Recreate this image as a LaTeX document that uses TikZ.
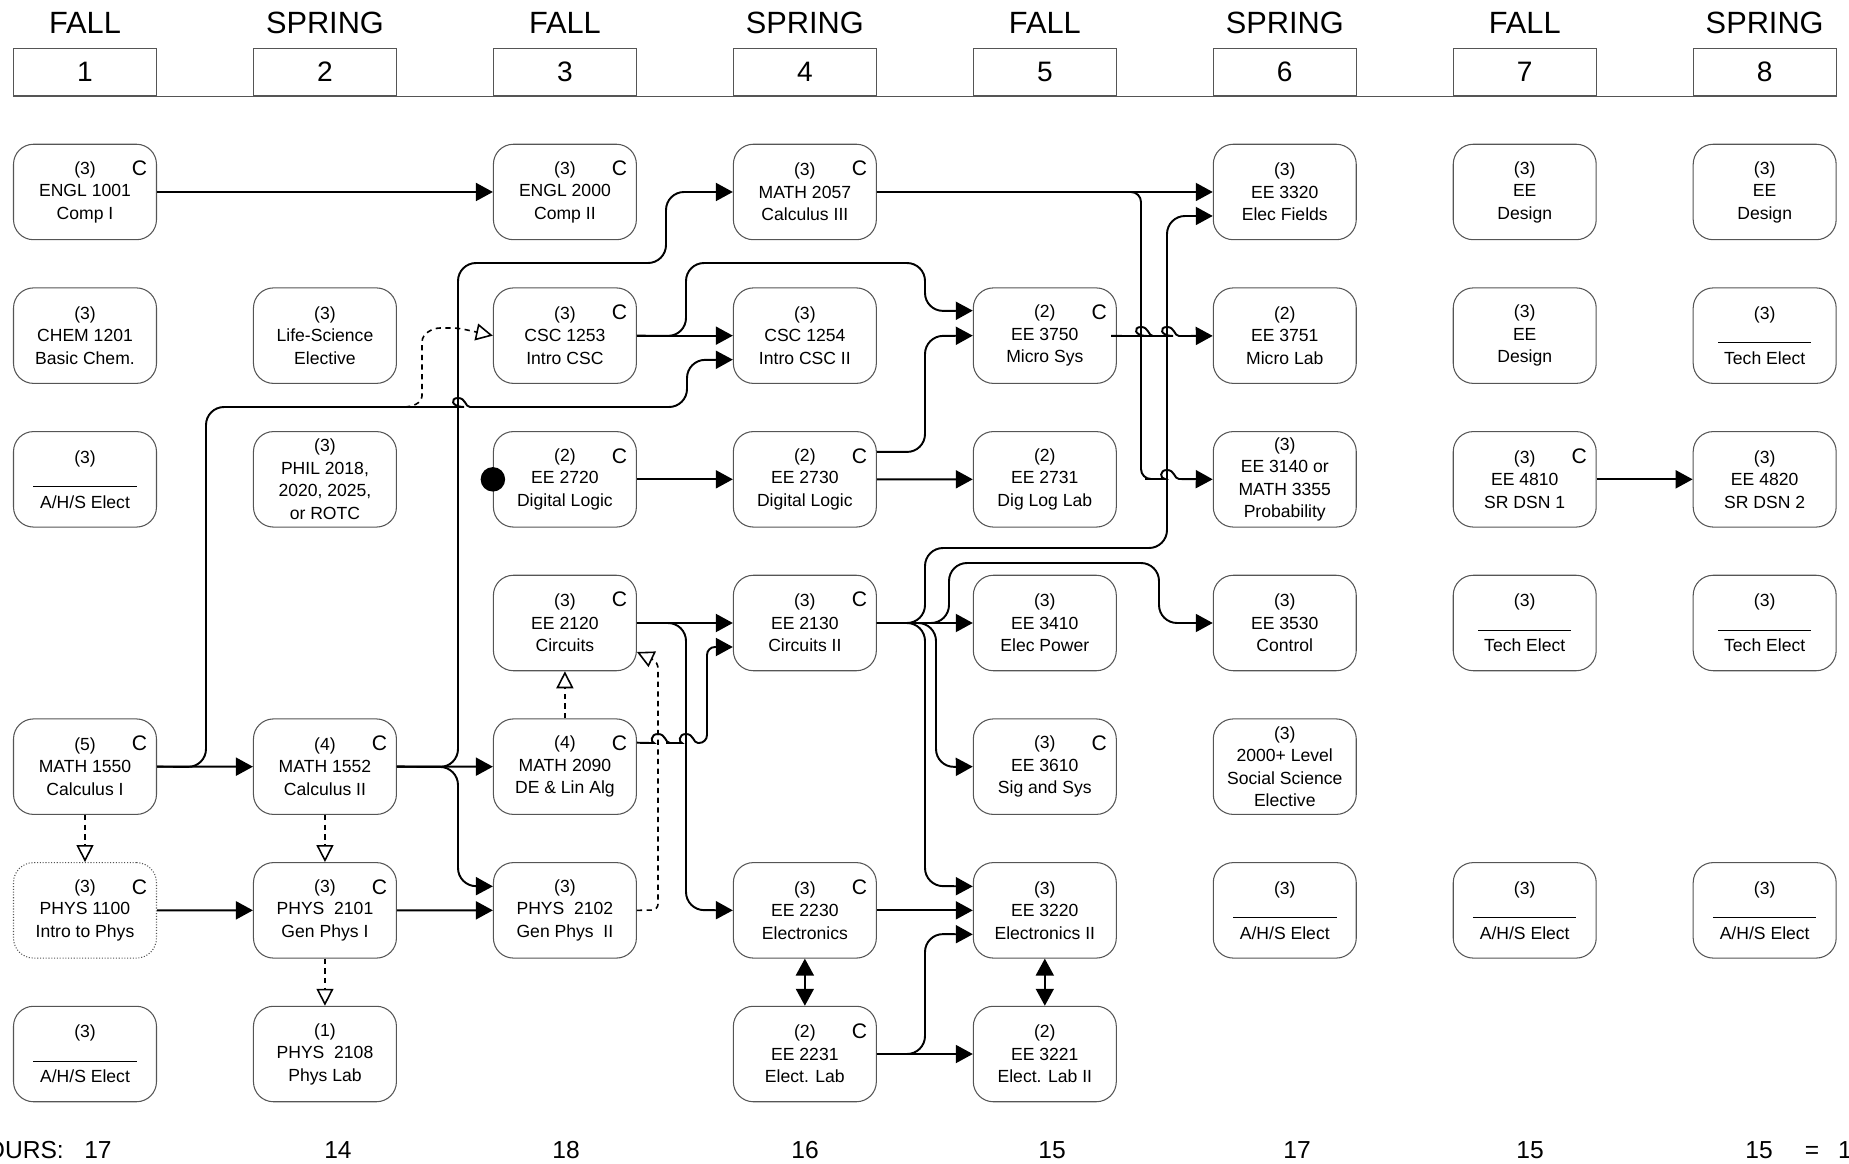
\documentclass[tikz,border=0pt]{standalone}
\usepackage{fontspec}
\setmainfont{Liberation Sans}
\usepackage{tikz}
\usetikzlibrary{arrows.meta, positioning}
\definecolor{boxgray}{RGB}{85,85,85}
\newcommand{\blankrule}[1]{\rule[-0.8pt]{#1}{0.5pt}}
% line hop over a vertical line at x=#1, on a horizontal line at y=#2, corners #3 after it
\newcommand{\hop}[3]{-- ({#1-12},#2) [sharp corners] .. controls ({#1-7},#2) and ({#1-8},{#2-9}) .. (#1,{#2-9}) .. controls ({#1+8},{#2-9}) and ({#1+7},#2) .. ({#1+12},#2) [rounded corners=#3]}
\tikzset{
  course/.style={rectangle, draw=boxgray, rounded corners=0.4cm,
    minimum width=2.86cm, minimum height=1.91cm, align=center,
    inner sep=0pt, font=\fontsize{10}{12.8}\selectfont, line width=0.6pt},
  introbox/.style={course, densely dotted},
  core/.style={label={[anchor=center, xshift=-0.35cm, yshift=-0.5cm,
    font=\fontsize{12}{12}\selectfont]north east:C}},
  sem/.style={rectangle, draw=boxgray, minimum width=2.86cm,
    minimum height=0.955cm, inner sep=0pt,
    font=\fontsize{16}{16}\selectfont, line width=0.6pt},
  season/.style={font=\fontsize{17.5}{17.5}\selectfont},
  hours/.style={anchor=base, font=\fontsize{14}{14}\selectfont},
  dot/.style={circle, fill=black, minimum size=0.49cm, inner sep=0pt},
  arrow/.style={-{Triangle[length=0.34cm, width=0.36cm]}, line width=1.1pt,
    rounded corners=0.36cm},
  twoway/.style={{Triangle[length=0.34cm, width=0.36cm]}-{Triangle[length=0.34cm, width=0.36cm]},
    line width=1.1pt},
  coreq/.style={-{Triangle[open, length=0.34cm, width=0.34cm]}, line width=0.9pt,
    dash pattern=on 3pt off 2.5pt, rounded corners=0.12cm}
}
\begin{document}
\begin{tikzpicture}[x=0.02cm, y=-0.02cm, node distance=2.874cm and 4.8cm, on grid]
  \useasboundingbox (0,0) rectangle (1849,1163);
  \clip (0,0) rectangle (1849,1163);

  % Semesters
  \node[sem] (s1) at (85,72) {1};
  \node[sem, right=of s1] (s2) {2};
  \node[sem, right=of s2] (s3) {3};
  \node[sem, right=of s3] (s4) {4};
  \node[sem, right=of s4] (s5) {5};
  \node[sem, right=of s5] (s6) {6};
  \node[sem, right=of s6] (s7) {7};
  \node[sem, right=of s7] (s8) {8};
  \node[season, above=0.99cm of s1] (t1) {FALL};
  \node[season, above=0.99cm of s2] (t2) {SPRING};
  \node[season, above=0.99cm of s3] (t3) {FALL};
  \node[season, above=0.99cm of s4] (t4) {SPRING};
  \node[season, above=0.99cm of s5] (t5) {FALL};
  \node[season, above=0.99cm of s6] (t6) {SPRING};
  \node[season, above=0.99cm of s7] (t7) {FALL};
  \node[season, above=0.99cm of s8] (t8) {SPRING};
  \draw[boxgray, line width=0.6pt] (s1.south west) -- (s8.south east);

  % Semester 1
  \node[course, core, below=2.4cm of s1] (engl1001) {(3)\\ENGL 1001\\Comp I};
  \node[course, below=of engl1001] (chem1201) {(3)\\CHEM 1201\\Basic Chem.};
  \node[course, below=of chem1201] (ahs1) {(3)\\\blankrule{2.07cm}\\A/H/S Elect};
  \node[course, core, below=5.748cm of ahs1] (math1550) {(5)\\MATH 1550\\Calculus I};
  \node[introbox, core, below=of math1550] (phys1100) {(3)\\PHYS 1100\\Intro to Phys};
  \node[course, below=of phys1100] (ahs1b) {(3)\\\blankrule{2.07cm}\\A/H/S Elect};

  % Semester 2
  \node[course, below=5.274cm of s2] (lifesci) {(3)\\Life-Science\\Elective};
  \node[course, below=of lifesci] (phil) {(3)\\PHIL 2018,\\2020, 2025,\\or ROTC};
  \node[course, core, below=5.748cm of phil] (math1552) {(4)\\MATH 1552\\Calculus II};
  \node[course, core, below=of math1552] (phys2101) {(3)\\PHYS\ \ 2101\\Gen Phys I};
  \node[course, below=of phys2101] (phys2108) {(1)\\PHYS\ \ 2108\\Phys Lab};

  % Semester 3
  \node[course, core, below=2.4cm of s3] (engl2000) {(3)\\ENGL 2000\\Comp II};
  \node[course, core, below=of engl2000] (csc1253) {(3)\\CSC 1253\\Intro CSC};
  \node[course, core, below=of csc1253] (ee2720) {(2)\\EE 2720\\Digital Logic};
  \node[course, core, below=of ee2720] (ee2120) {(3)\\EE 2120\\Circuits};
  \node[course, core, below=of ee2120] (math2090) {(4)\\MATH 2090\\DE \& Lin Alg};
  \node[course, below=of math2090] (phys2102) {(3)\\PHYS\ \ 2102\\Gen Phys\ \ II};
  \node[dot] (ee2720dot) at (ee2720.west) {};

  % Semester 4
  \node[course, core, below=2.4cm of s4] (math2057) {(3)\\MATH 2057\\Calculus III};
  \node[course, below=of math2057] (csc1254) {(3)\\CSC 1254\\Intro CSC II};
  \node[course, core, below=of csc1254] (ee2730) {(2)\\EE 2730\\Digital Logic};
  \node[course, core, below=of ee2730] (ee2130) {(3)\\EE 2130\\Circuits II};
  \node[course, core, below=5.748cm of ee2130] (ee2230) {(3)\\EE 2230\\Electronics};
  \node[course, core, below=of ee2230] (ee2231) {(2)\\EE 2231\\Elect. Lab};

  % Semester 5
  \node[course, core, below=5.274cm of s5] (ee3750) {(2)\\EE 3750\\Micro Sys};
  \node[course, below=of ee3750] (ee2731) {(2)\\EE 2731\\Dig Log Lab};
  \node[course, below=of ee2731] (ee3410) {(3)\\EE 3410\\Elec Power};
  \node[course, core, below=of ee3410] (ee3610) {(3)\\EE 3610\\Sig and Sys};
  \node[course, below=of ee3610] (ee3220) {(3)\\EE 3220\\Electronics II};
  \node[course, below=of ee3220] (ee3221) {(2)\\EE 3221\\Elect. Lab II};

  % Semester 6
  \node[course, below=2.4cm of s6] (ee3320) {(3)\\EE 3320\\Elec Fields};
  \node[course, below=of ee3320] (ee3751) {(2)\\EE 3751\\Micro Lab};
  \node[course, below=of ee3751] (ee3140) {(3)\\EE 3140 or\\MATH 3355\\Probability};
  \node[course, below=of ee3140] (ee3530) {(3)\\EE 3530\\Control};
  \node[course, below=of ee3530] (socsci) {(3)\\2000+ Level\\Social Science\\Elective};
  \node[course, below=of socsci] (ahs6) {(3)\\\blankrule{2.07cm}\\A/H/S Elect};

  % Semester 7
  \node[course, below=2.4cm of s7] (dsn7a) {(3)\\EE\\Design};
  \node[course, below=of dsn7a] (dsn7b) {(3)\\EE\\Design};
  \node[course, core, below=of dsn7b] (ee4810) {(3)\\EE 4810\\SR DSN 1};
  \node[course, below=of ee4810] (tech7) {(3)\\\blankrule{1.86cm}\\Tech Elect};
  \node[course, below=5.748cm of tech7] (ahs7) {(3)\\\blankrule{2.07cm}\\A/H/S Elect};

  % Semester 8
  \node[course, below=2.4cm of s8] (dsn8) {(3)\\EE\\Design};
  \node[course, below=of dsn8] (tech8a) {(3)\\\blankrule{1.86cm}\\Tech Elect};
  \node[course, below=of tech8a] (ee4820) {(3)\\EE 4820\\SR DSN 2};
  \node[course, below=of ee4820] (tech8b) {(3)\\\blankrule{1.86cm}\\Tech Elect};
  \node[course, below=5.748cm of tech8b] (ahs8) {(3)\\\blankrule{2.07cm}\\A/H/S Elect};

  % Hours
  \node[hours, anchor=base east] (hlabel) at (70,1158) {HOURS:};
  \node[hours] (h1) at (98,1158) {17};
  \node[hours] (h2) at (338,1158) {14};
  \node[hours] (h3) at (566,1158) {18};
  \node[hours] (h4) at (805,1158) {16};
  \node[hours] (h5) at (1052,1158) {15};
  \node[hours] (h6) at (1297,1158) {17};
  \node[hours] (h7) at (1530,1158) {15};
  \node[hours] (h8) at (1759,1158) {15};
  \node[hours] (heq) at (1812,1158) {=};
  \node[hours, anchor=base west] (htotal) at (1832,1158) {127};

  % Connections: math and physics
  \draw[arrow] (engl1001) -- (engl2000);
  \draw[arrow] (math1550) -- (math1552);
  \draw[arrow] (math1550.east) -- (206,767) -- (206,407) \hop{458}{407}{0.36cm} -- (687,407) -- (687,360) -- ([yshift=-0.48cm]csc1254.west);
  \coordinate (cfork) at (405,407);
  \draw[coreq] (cfork) .. controls (418,406) and (422,400) .. (422,390) -- (422,348) .. controls (422,334) and (432,328) .. (446,328) -- (458,328) -- (csc1253.west);
  \draw[coreq] (math1550) -- (phys1100);
  \draw[arrow] (phys1100) -- (phys2101);
  \draw[coreq] (math1552) -- (phys2101);
  \draw[coreq] (phys2101) -- (phys2108);
  \draw[arrow] (phys2101) -- (phys2102);
  \draw[arrow] (math1552) -- (math2090);
  \draw[arrow] (math1552.east) -- (458,767) -- (458,263) -- (666,263) -- (666,192) -- (math2057.west);
  \draw[arrow] (math1552.east) -- (458,767) -- (458,886) -- ([yshift=0.48cm]phys2102.west);

  % Connections: semester 3
  \draw[arrow] (csc1253) -- (csc1254);
  \draw[arrow] (csc1253.east) -- (686,336) -- (686,263) -- (925,263) -- (925,311) -- ([yshift=0.5cm]ee3750.west);
  \draw[arrow] (ee2720) -- (ee2730);
  \draw[arrow] (ee2120) -- (ee2130);
  \draw[arrow] (ee2120.east) -- (686,623) -- (686,910) -- (ee2230.west);
  \draw[coreq] (math2090) -- (ee2120);
  \draw[coreq] (phys2102.east) -- (658,910) -- (658,662) -- ([yshift=-0.58cm]ee2120.east);
  \draw[arrow, rounded corners=0.16cm] ([yshift=0.48cm]math2090.east) \hop{658}{743}{0.16cm} \hop{686}{743}{0.16cm} -- (707,743) -- (707,647) -- ([yshift=-0.48cm]ee2130.west);

  % Connections: semester 4 and later
  \draw[arrow] (math2057) -- (ee3320);
  \draw[arrow, rounded corners=0.2cm] (math2057.east) -- (1141,192) -- (1141,479) \hop{1167}{479}{0.2cm} -- (ee3140.west);
  \draw[arrow] (ee2730) -- (ee2731);
  \draw[arrow] ([yshift=0.55cm]ee2730.east) -- (925,452) -- (925,336) -- (ee3750.west);
  \draw[arrow] (ee2130) -- (ee3410);
  \draw[arrow] (ee2130.east) -- (925,623) -- (925,548) -- (1167,548) -- (1167,216) -- ([yshift=-0.48cm]ee3320.west);
  \draw[arrow] (ee2130.east) -- (949,623) -- (949,563) -- (1159,563) -- (1159,623) -- (ee3530.west);
  \draw[arrow] (ee2130.east) -- (936,623) -- (936,767) -- (ee3610.west);
  \draw[arrow] (ee2130.east) -- (925,623) -- (925,886) -- ([yshift=0.48cm]ee3220.west);
  \draw[arrow] (ee2230) -- (ee3220);
  \draw[twoway] (ee2230) -- (ee2231);
  \draw[twoway] (ee3220) -- (ee3221);
  \draw[arrow] (ee2231) -- (ee3221);
  \draw[arrow] (ee2231.east) -- (925,1054) -- (925,934) -- ([yshift=-0.48cm]ee3220.west);
  \draw[arrow] (ee3750) \hop{1141}{336}{0.36cm} \hop{1167}{336}{0.36cm} -- (ee3751);
  \draw[arrow] (ee4810) -- (ee4820);
\end{tikzpicture}
\end{document}
